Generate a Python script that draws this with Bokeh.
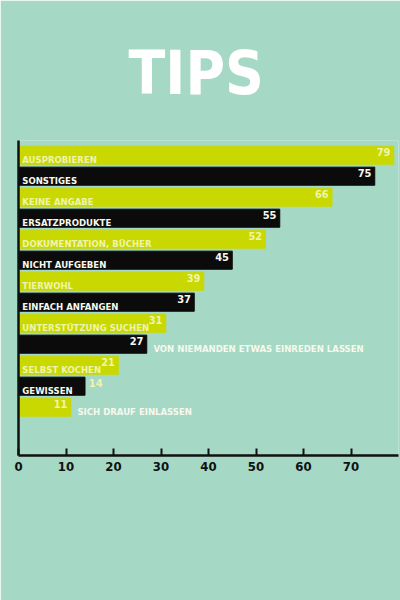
from bokeh.plotting import figure
from bokeh.models import ColumnDataSource, FixedTicker
from bokeh.core.properties import value
from bokeh.embed import file_html
from bokeh.resources import INLINE

title_text = "TIPS"
categories = ["AUSPROBIEREN", "SONSTIGES", "KEINE ANGABE", "ERSATZPRODUKTE",
              "DOKUMENTATION, BÜCHER", "NICHT AUFGEBEN", "TIERWOHL",
              "EINFACH ANFANGEN", "UNTERSTÜTZUNG SUCHEN",
              "VON NIEMANDEN ETWAS EINREDEN LASSEN", "SELBST KOCHEN",
              "GEWISSEN", "SICH DRAUF EINLASSEN"]
values = [79, 75, 66, 55, 52, 45, 39, 37, 31, 27, 21, 14, 11]
x_ticks = [0, 10, 20, 30, 40, 50, 60, 70]

BG = "#a5d8c5"
YEL = "#c9d800"
BLK = "#0b0b0b"
PALE = "#eef4b0"
WHITE = "#f7f9ee"
FONT = "DejaVu Sans Condensed"

n = len(categories)
ys = [n - i for i in range(n)]
colors = [YEL if i % 2 == 0 else BLK for i in range(n)]
txtcol = [PALE if i % 2 == 0 else WHITE for i in range(n)]

XMAX = 80
FRAME_W = 380
upx = XMAX / FRAME_W  # data units per pixel
CHAR = 5.8 * upx      # approx label char width in data units
VCHAR = 6.5 * upx     # approx value char width

lab_x, lab_y, lab_t, lab_c, lab_a = [], [], [], [], []
val_x, val_y, val_t, val_c, val_a = [], [], [], [], []
for i, (c, v) in enumerate(zip(categories, values)):
    y = ys[i]
    lw = len(c) * CHAR + 0.8
    vw = len(str(v)) * VCHAR + 0.8
    if lw + vw < v:
        lab_x.append(0.8); lab_a.append("left"); lab_c.append(txtcol[i])
        val_x.append(v - 0.7); val_a.append("right"); val_c.append(txtcol[i])
    elif lw < v:
        lab_x.append(0.8); lab_a.append("left"); lab_c.append(txtcol[i])
        val_x.append(v + 0.8); val_a.append("left"); val_c.append(PALE)
    else:
        val_x.append(v - 0.7); val_a.append("right"); val_c.append(txtcol[i])
        lab_x.append(v + 1.4); lab_a.append("left"); lab_c.append(WHITE)
    lab_y.append(y - 0.2); lab_t.append(c)
    val_y.append(y + 0.15); val_t.append(str(v))

bars = ColumnDataSource(dict(y=ys, v=values, color=colors))
labs = ColumnDataSource(dict(x=lab_x, y=lab_y, t=lab_t, c=lab_c, a=lab_a))
vals = ColumnDataSource(dict(x=val_x, y=val_y, t=val_t, c=val_c, a=val_a))

p = figure(width=400, height=600, output_backend="svg", toolbar_location=None,
           x_range=(0, XMAX), y_range=(-1.3, n + 0.7),
           min_border_left=18, min_border_right=2, min_border_top=140,
           min_border_bottom=145, title=title_text)
p.background_fill_color = BG
p.border_fill_color = BG
p.outline_line_color = None
p.grid.visible = False

p.title.align = "left"
p.title.text_font = FONT
p.title.text_font_style = "bold"
p.title.text_font_size = "60px"
p.title.text_color = "#ffffff"
p.title.offset = 110
p.title.standoff = 65

p.hbar(y="y", right="v", left=0, height=0.86, color="color", source=bars)
p.text(x="x", y="y", text="t", text_color="c", text_align="a",
       text_baseline="middle", text_font=value(FONT), text_font_style="bold",
       text_font_size="9.5px", source=labs)
p.text(x="x", y="y", text="t", text_color="c", text_align="a",
       text_baseline="middle", text_font=value(FONT), text_font_style="bold",
       text_font_size="11px", source=vals)

xa = p.xaxis[0]
xa.ticker = FixedTicker(ticks=x_ticks)
xa.minor_tick_line_color = None
xa.major_tick_in = 7
xa.major_tick_out = 0
xa.major_tick_line_width = 2
xa.major_tick_line_color = "#111111"
xa.axis_line_width = 2.5
xa.axis_line_color = "#111111"
xa.major_label_text_font = FONT
xa.major_label_text_font_style = "bold"
xa.major_label_text_font_size = "13px"
xa.major_label_text_color = "#111111"
xa.major_label_standoff = 6

ya = p.yaxis[0]
ya.ticker = FixedTicker(ticks=[])
ya.major_label_text_font_size = "0px"
ya.axis_line_width = 2.5
ya.axis_line_color = "#111111"
ya.minor_tick_line_color = None
ya.major_tick_line_color = None

open("out.html", "w").write(file_html(p, INLINE))
